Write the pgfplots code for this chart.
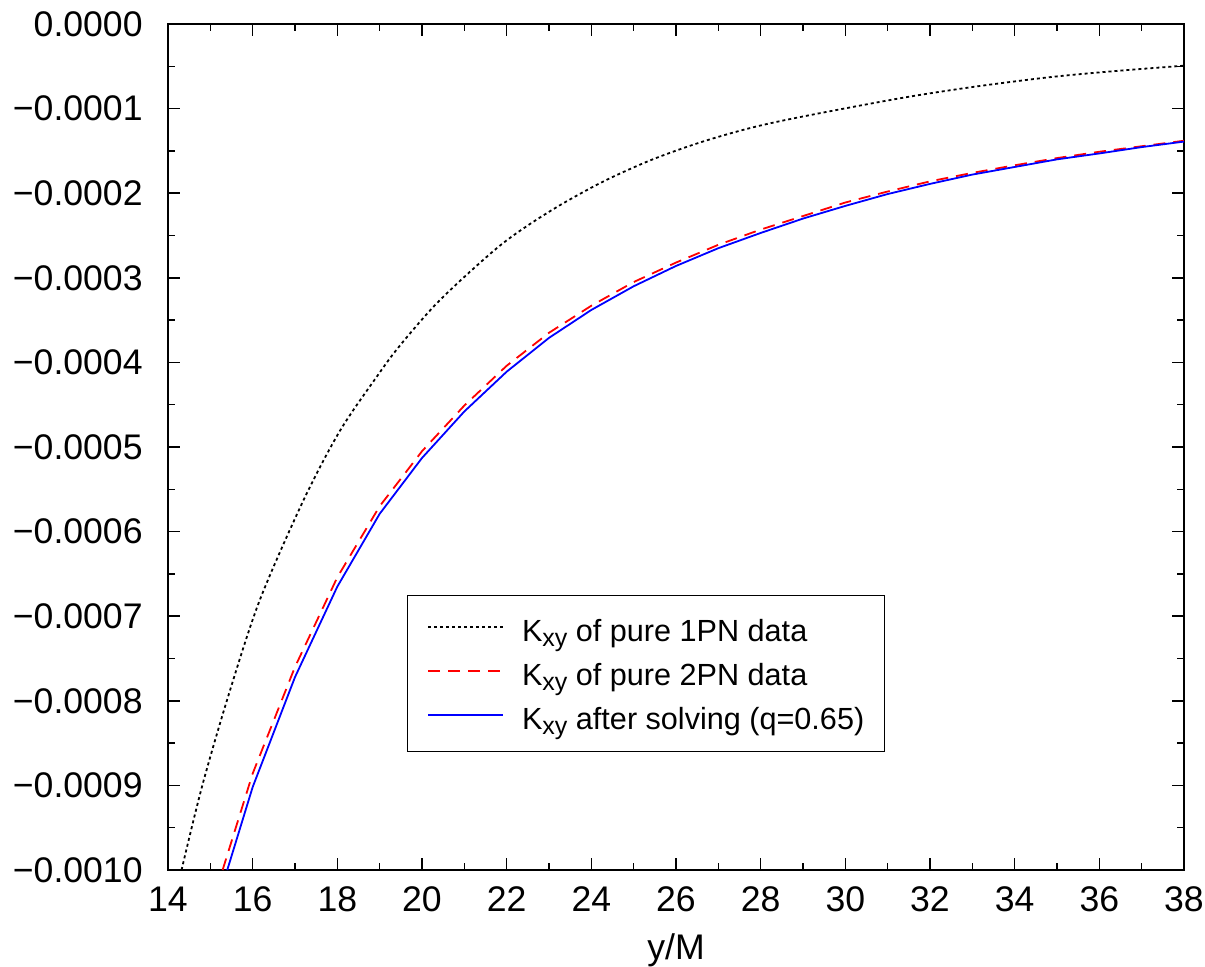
\documentclass[border=0pt]{standalone}
\usepackage{pgfplots}
\pgfplotsset{compat=1.18}
\usepackage{fontspec}
\setmainfont{Liberation Sans}

\begin{document}
\begin{tikzpicture}
\begin{axis}[
  name=ax,
  scale only axis,
  width=508pt, height=423pt,
  xmin=14, xmax=38, ymin=-0.001, ymax=0,
  xtick={14,16,18,20,22,24,26,28,30,32,34,36,38},
  xticklabels={14,16,18,20,22,24,26,28,30,32,34,36,38},
  ytick={-0.001,-0.0009,-0.0008,-0.0007,-0.0006,-0.0005,-0.0004,-0.0003,-0.0002,-0.0001,0},
  yticklabels={−0.0010,−0.0009,−0.0008,−0.0007,−0.0006,−0.0005,−0.0004,−0.0003,−0.0002,−0.0001,0.0000},
  scaled y ticks=false,
  minor x tick num=1, minor y tick num=1,
  tick align=inside,
  major tick length=6pt, minor tick length=3.5pt,
  axis line style={line width=0.75pt},
  tick style={black, line width=0.75pt},
  ticklabel style={font=\fontsize{17.8}{20}\selectfont, inner sep=0pt},
  xticklabel shift=8.3pt, yticklabel shift=12.5pt,
  xlabel={y/M},
  xlabel style={font=\fontsize{17.8}{20}\selectfont, at={(axis description cs:0.5,0)}, anchor=north, yshift=-31.5pt, inner sep=0pt},
  legend style={
    at={(0.2349,0.325)}, anchor=north west,
    draw=black, line width=0.6pt, fill=white,
    inner xsep=10pt, inner ysep=6pt,
    row sep=0pt,
    font=\fontsize{15.3}{18}\selectfont,
    nodes={inner sep=0pt, text height=17pt, text depth=5pt},
    /tikz/every odd column/.append style={column sep=9pt},
  },
  legend cell align=left,
  legend image code/.code={\draw[#1, line width=0.9pt] (0pt,1.2pt) -- (37.5pt,1.2pt);},
]
\addplot[black, line width=0.9pt, dash pattern=on 1.5pt off 1.5pt, smooth] coordinates {
(14.32,-0.001000)
(14.80,-0.000902)
(15.42,-0.000795)
(16.16,-0.000682)
(17.20,-0.000563)
(18.06,-0.000481)
(18.93,-0.000417)
(19.48,-0.000380)
(20.43,-0.000326)
(21.84,-0.000262)
(23.00,-0.000222)
(24.21,-0.000188)
(25.40,-0.000161)
(26.57,-0.000140)
(27.75,-0.000123)
(28.93,-0.000110)
(31.29,-0.0000878)
(33.00,-0.0000745)
(34.84,-0.0000628)
(36.40,-0.0000555)
(38.00,-0.0000493)
};
\addlegendentry{K\raisebox{-2.5pt}{\fontsize{12.5}{12.5}\selectfont xy} of pure 1PN data}
\addplot[red, line width=0.9pt, dash pattern=on 6pt off 4pt] coordinates {
(15.29,-0.001000)
(16,-0.000886)
(17,-0.000760)
(18,-0.000654)
(19,-0.000570)
(20,-0.000505)
(21,-0.000451)
(22,-0.000404)
(23,-0.000365)
(24,-0.000333)
(25,-0.000305)
(26,-0.000282)
(27,-0.000261)
(28,-0.000243)
(29,-0.000227)
(30,-0.000211)
(31,-0.000198)
(32,-0.000186)
(33,-0.000176)
(34,-0.000167)
(35,-0.0001585)
(36,-0.000151)
(37,-0.0001445)
(38,-0.000138)
};
\addlegendentry{K\raisebox{-2.5pt}{\fontsize{12.5}{12.5}\selectfont xy} of pure 2PN data}
\addplot[blue, line width=0.9pt] coordinates {
(15.40,-0.001000)
(16,-0.000902)
(17,-0.000772)
(18,-0.000665)
(19,-0.000579)
(20,-0.000513)
(21,-0.000458)
(22,-0.000411)
(23,-0.000371)
(24,-0.000338)
(25,-0.000310)
(26,-0.000286)
(27,-0.000265)
(28,-0.000247)
(29,-0.000230)
(30,-0.000215)
(31,-0.000201)
(32,-0.000189)
(33,-0.000178)
(34,-0.000169)
(35,-0.000160)
(36,-0.000153)
(37,-0.0001455)
(38,-0.000139)
};
\addlegendentry{K\raisebox{-2.5pt}{\fontsize{12.5}{12.5}\selectfont xy} after solving (q=0.65)}
\end{axis}
\pgfresetboundingbox
\path[use as bounding box] ([xshift=-84pt,yshift=-48pt]ax.south west) rectangle ([xshift=10.5pt,yshift=12pt]ax.north east);
\end{tikzpicture}
\end{document}
